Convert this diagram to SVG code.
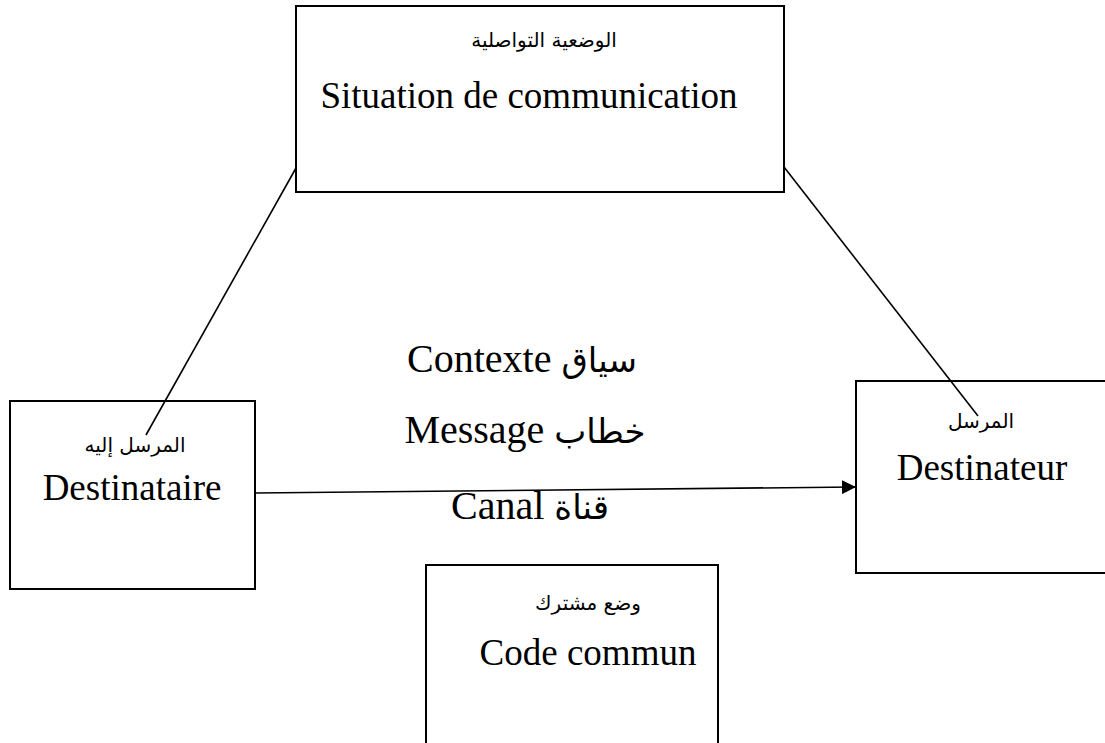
<svg xmlns="http://www.w3.org/2000/svg" width="1105" height="743" viewBox="0 0 1105 743">
  <style>
    .box { fill: #ffffff; stroke: #000000; stroke-width: 2; }
    .link { stroke: #000000; stroke-width: 1.6; fill: none; }
    .lat { font-family: "Liberation Serif", "DejaVu Serif", serif; fill: #000000; text-anchor: middle; }
    .ar { font-family: "DejaVu Sans", "Noto Sans", sans-serif; fill: #000000; text-anchor: middle; }
    .big { font-size: 37px; }
    .mid { font-size: 40px; }
    .small { font-size: 20px; }
  </style>
  <defs>
    <marker id="arrowHead" markerWidth="14" markerHeight="14" refX="13" refY="7" orient="auto" markerUnits="userSpaceOnUse" viewBox="0 0 14 14">
      <path d="M0,0 L14,7 L0,14 Z" fill="#000000"/>
    </marker>
  </defs>
  <rect width="1105" height="743" fill="#ffffff"/>

  <!-- situation box -->
  <g id="situation">
    <rect class="box" x="296" y="6" width="488" height="186"/>
    <text class="ar small" x="544" y="47" font-size="22" direction="rtl">الوضعية التواصلية</text>
    <text class="lat big" x="529" y="108">Situation de communication</text>
  </g>

  <!-- receiver box -->
  <g id="destinataire">
    <rect class="box" x="10" y="401" width="245" height="188"/>
    <text class="ar small" x="135" y="452" direction="rtl">المرسل إليه</text>
    <text class="lat big" x="132" y="500">Destinataire</text>
  </g>

  <!-- sender box -->
  <g id="destinateur">
    <rect class="box" x="856" y="381" width="260" height="192"/>
    <text class="ar small" x="981" y="428" direction="rtl">المرسل</text>
    <text class="lat big" x="982" y="480">Destinateur</text>
  </g>

  <!-- shared code box -->
  <g id="code">
    <rect class="box" x="426" y="565" width="292" height="190"/>
    <text class="ar small" x="588" y="610" direction="rtl">وضع مشترك</text>
    <text class="lat big" x="588" y="665">Code commun</text>
  </g>

  <!-- free labels in the middle -->
  <g id="labels">
    <text class="lat mid" x="522" y="372"><tspan>Contexte </tspan><tspan class="ar" font-size="34">سياق</tspan></text>
    <text class="lat mid" x="525" y="443"><tspan>Message </tspan><tspan class="ar" font-size="34">خطاب</tspan></text>
    <text class="lat mid" x="530" y="519"><tspan>Canal </tspan><tspan class="ar" font-size="34">قناة</tspan></text>
  </g>

  <!-- connectors -->
  <g id="connectors">
    <line class="link" x1="296" y1="168" x2="146" y2="435"/>
    <line class="link" x1="784" y1="167" x2="978" y2="416"/>
    <line class="link" x1="255" y1="493" x2="855" y2="487" stroke-width="2.2" marker-end="url(#arrowHead)"/>
  </g>
</svg>
